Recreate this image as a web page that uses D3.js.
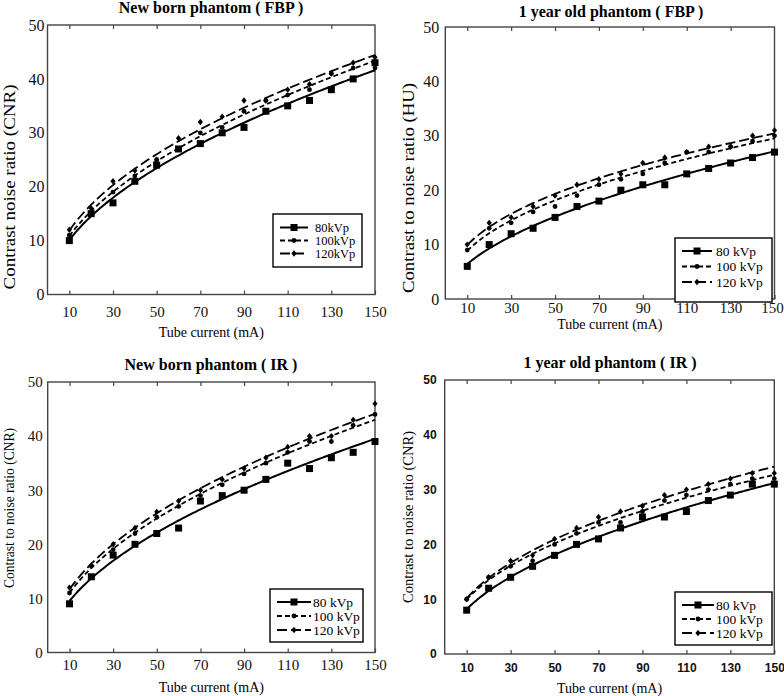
<!DOCTYPE html>
<html><head><meta charset="utf-8">
<script src="https://cdn.jsdelivr.net/npm/d3@7"></script>
<style>body{margin:0;background:#fff}svg{display:block}</style>
</head><body>
<svg id="c" width="784" height="696"></svg>
<script>
// ---- data ----
const current = [10,20,30,40,50,60,70,80,90,100,110,120,130,140,150];
const xTickValues = [10,30,50,70,90,110,130,150];
const yTickValues = [0,10,20,30,40,50];
const seriesNames = ["80kVp","100kVp","120kVp"];
const seriesNamesSpaced = ["80 kVp","100 kVp","120 kVp"];

const newbornFBP_80  = [10,15,17,21,24,27,28,30,31,34,35,36,38,40,43];
const newbornFBP_100 = [11,15,19,22,25,27,30,31,34,36,37,38,41,42,42];
const newbornFBP_120 = [12,16,21,23,25,29,32,33,36,36,38,39,41,43,44];

const oneYearFBP_80  = [6,10,12,13,15,17,18,20,21,21,23,24,25,26,27];
const oneYearFBP_100 = [9,13,14,16,17,19,21,22,23,25,27,27,28,29,30];
const oneYearFBP_120 = [10,14,15,17,19,21,22,23,25,26,27,28,28,30,31];

const newbornIR_80  = [9,14,18,20,22,23,28,29,30,32,35,34,36,37,39];
const newbornIR_100 = [11,16,19,22,25,27,29,31,33,35,37,39,39,42,44];
const newbornIR_120 = [12,16,20,23,26,28,30,32,34,36,38,40,40,43,46];

const oneYearIR_80  = [8,12,14,16,18,20,21,23,25,25,26,28,29,31,31];
const oneYearIR_100 = [10,14,16,17,20,22,24,24,26,28,29,30,31,32,32];
const oneYearIR_120 = [10,14,17,18,21,23,25,26,27,29,30,31,32,33,33];

const titles = ["New born phantom ( FBP )","1 year old phantom ( FBP )","New born phantom ( IR )","1 year old phantom ( IR )"];
const yTitles = ["Contrast noise ratio (CNR)","Contrast to noise ratio (HU)","Contrast to noise ratio (CNR)","Contrast to noise ratio (CNR)"];
const xTitle = "Tube current (mA)";

// ---- layout ----
const panels = [
  {data:[newbornFBP_80,newbornFBP_100,newbornFBP_120], names:seriesNames,
   l:47.5,r:375,t:25,b:294.5, titleY:13,titleX:211, yt:{x:9,y:187,len:205,fs:17}, xtY:337, tickFont:"serif",
   yTickSize:16, xTickSize:15, xPad:12, yPad:3,
   leg:{x:273,y:214,w:89,h:53,r0:227.5,row:13,lx0:280,lx1:308,tx:315,fs:12.5}},
  {data:[oneYearFBP_80,oneYearFBP_100,oneYearFBP_120], names:seriesNamesSpaced,
   l:445.3,r:774.5,t:27,b:299, titleY:17,titleX:611, yt:{x:408,y:188,len:210,fs:17}, xtY:329, tickFont:"serif",
   yTickSize:16, xTickSize:15, xPad:3, yPad:6, lastShift:-2.5,
   leg:{x:675,y:238,w:97,h:64,r0:251,row:15.5,lx0:682,lx1:712,tx:716,fs:13.5}},
  {data:[newbornIR_80,newbornIR_100,newbornIR_120], names:seriesNamesSpaced,
   l:47.7,r:375,t:382,b:652.5, titleY:370,titleX:211, yt:{x:9,y:508,len:160,fs:15}, xtY:692, tickFont:"serif",
   yTickSize:15, xTickSize:15, xPad:7, yPad:5,
   leg:{x:270,y:589,w:93,h:53,r0:602,row:14,lx0:277,lx1:311,tx:313,fs:13.5}},
  {data:[oneYearIR_80,oneYearIR_100,oneYearIR_120], names:seriesNamesSpaced,
   l:444.7,r:774.3,t:380,b:654, titleY:368,titleX:610, yt:{x:408,y:517,len:172,fs:15}, xtY:693, tickFont:"sans",
   yTickSize:12, xTickSize:12, xPad:9, yPad:8,
   leg:{x:675,y:592,w:97,h:53,r0:605,row:14,lx0:682,lx1:714,tx:716,fs:13.5}}
];

const serif = "'Liberation Serif','Times New Roman',serif";
const sans = "'Liberation Sans',Arial,sans-serif";
const dashes = [null, "5,3", "10,4"];

function powerFit(xs, ys){
  const lx = xs.map(Math.log), ly = ys.map(Math.log);
  const n = xs.length, mx = d3.mean(lx), my = d3.mean(ly);
  let sxy=0,sxx=0;
  for(let i=0;i<n;i++){sxy+=(lx[i]-mx)*(ly[i]-my);sxx+=(lx[i]-mx)**2;}
  const b = sxy/sxx, a = Math.exp(my-b*mx);
  return x => a*Math.pow(x,b);
}

const svg = d3.select("#c");

function marker(g, k, x, y){
  if(k===0){
    g.append("rect").attr("x",x-3.5).attr("y",y-3.5).attr("width",7).attr("height",7).attr("fill","#000");
  } else if(k===1){
    g.append("circle").attr("cx",x).attr("cy",y).attr("r",2.4).attr("fill","#000");
  } else {
    g.append("path").attr("d",`M${x},${y-3.2}L${x+2.6},${y}L${x},${y+3.2}L${x-2.6},${y}Z`).attr("fill","#000");
  }
}

panels.forEach((p,pi)=>{
  const g = svg.append("g");
  const x = d3.scaleLinear().domain([0,150]).range([p.l,p.r]);
  const y = d3.scaleLinear().domain([0,50]).range([p.b,p.t]);
  const tf = p.tickFont==="serif"?serif:sans;

  // frame
  g.append("rect").attr("x",p.l).attr("y",p.t).attr("width",p.r-p.l).attr("height",p.b-p.t)
    .attr("fill","none").attr("stroke","#444").attr("stroke-width",1.4);

  // bottom axis (ticks inward)
  const xb = g.append("g").attr("transform",`translate(0,${p.b})`)
    .call(d3.axisBottom(x).tickValues(xTickValues).tickSize(-4).tickPadding(p.xPad).tickFormat(d3.format("d")));
  xb.select(".domain").remove();
  xb.selectAll("line").attr("stroke","#444").attr("stroke-width",1.2);
  xb.selectAll("text").attr("font-family",tf).attr("font-size",p.xTickSize).attr("fill","#111")
    .attr("font-weight",p.tickFont==="sans"?"bold":"normal")
    .attr("dx",d=>(d===150 && p.lastShift)?p.lastShift:0);
  // top axis ticks
  const xt = g.append("g").attr("transform",`translate(0,${p.t})`)
    .call(d3.axisTop(x).tickValues(xTickValues.filter(v=>v<150)).tickSize(-4).tickFormat(""));
  xt.select(".domain").remove();
  xt.selectAll("line").attr("stroke","#444").attr("stroke-width",1.2);

  // left axis labels
  const yl = g.append("g").attr("transform",`translate(${p.l},0)`)
    .call(d3.axisLeft(y).tickValues(yTickValues).tickSize(0).tickPadding(p.yPad));
  yl.select(".domain").remove();
  yl.selectAll("text").attr("font-family",tf).attr("font-size",p.yTickSize).attr("fill","#111")
    .attr("font-weight",p.tickFont==="sans"?"bold":"normal");

  // titles
  g.append("text").attr("x",p.titleX).attr("y",p.titleY).attr("text-anchor","middle")
    .attr("font-family",serif).attr("font-weight","bold").attr("font-size",16).text(titles[pi]);
  g.append("text").attr("x",(p.l+p.r)/2).attr("y",p.xtY).attr("text-anchor","middle")
    .attr("font-family",serif).attr("font-size",14).text(xTitle);
  g.append("text").attr("transform",`translate(${p.yt.x},${p.yt.y}) rotate(-90)`)
    .attr("text-anchor","middle").attr("dy","0.35em")
    .attr("font-family",serif).attr("font-size",p.yt.fs)
    .attr("textLength",p.yt.len).attr("lengthAdjust","spacingAndGlyphs").text(yTitles[pi]);

  // fitted curves + markers
  const line = d3.line().x(d=>x(d[0])).y(d=>y(d[1]));
  p.data.forEach((vals,k)=>{
    const f = powerFit(current, vals);
    const pts = d3.range(10,150.01,1).map(v=>[v,f(v)]);
    g.append("path").attr("d",line(pts)).attr("fill","none").attr("stroke","#000")
      .attr("stroke-width",k===0?2:1.8).attr("stroke-dasharray",dashes[k]);
    vals.forEach((v,i)=>marker(g,k,x(current[i]),y(v)));
  });

  // legend
  const L = p.leg;
  g.append("rect").attr("x",L.x).attr("y",L.y).attr("width",L.w).attr("height",L.h)
    .attr("fill","#fff").attr("stroke","#000").attr("stroke-width",1.4);
  p.names.forEach((nm,k)=>{
    const cy = L.r0 + k*L.row;
    g.append("line").attr("x1",L.lx0).attr("x2",L.lx1).attr("y1",cy).attr("y2",cy)
      .attr("stroke","#000").attr("stroke-width",2).attr("stroke-dasharray",dashes[k]);
    marker(g,k,(L.lx0+L.lx1)/2,cy);
    g.append("text").attr("x",L.tx).attr("y",cy).attr("dy","0.35em")
      .attr("font-family",serif).attr("font-size",L.fs).text(nm);
  });
});
</script>
</body></html>
